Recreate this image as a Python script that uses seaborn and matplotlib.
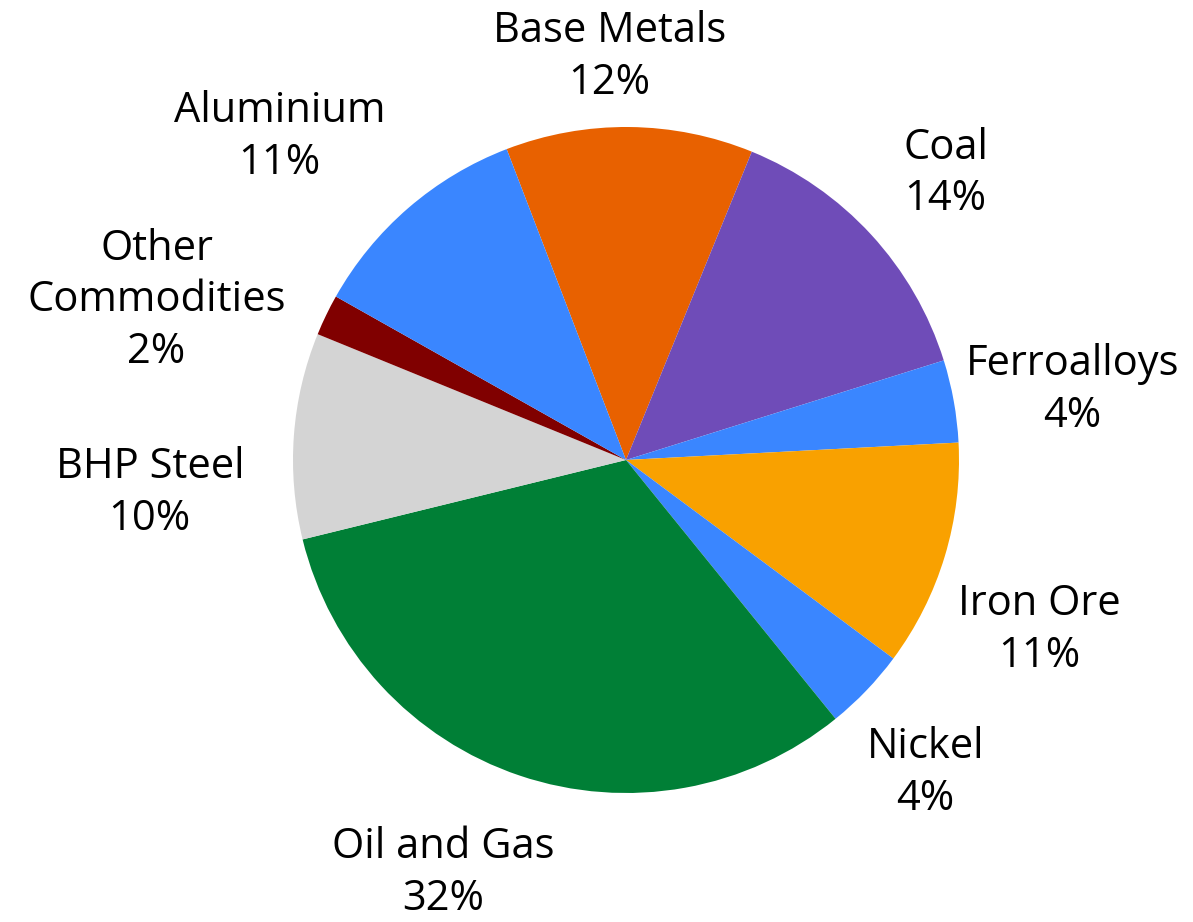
import matplotlib
matplotlib.use("Agg")
import matplotlib.pyplot as plt
import seaborn as sns

sns.set_theme(style="white")
plt.rcParams["font.family"] = ["Open Sans", "DejaVu Sans"]

# Commodity segments, clockwise from the top-left
segments = ["Base Metals", "Coal", "Ferroalloys", "Iron Ore", "Nickel",
            "Oil and Gas", "BHP Steel", "Other\nCommodities", "Aluminium"]
shares = [12, 14, 4, 11, 4, 32, 10, 2, 11]
colors = ["#E86100", "#6F4CB8", "#3A86FF", "#F9A100", "#3A86FF",
          "#007F36", "#D4D4D4", "#800000", "#3A86FF"]

# Label centres in units of the pie radius (x right, y up from centre)
label_pos = [(-0.05, 1.21), (0.96, 0.86), (1.34, 0.21), (1.24, -0.51),
             (0.90, -0.94), (-0.55, -1.24), (-1.43, -0.10), (-1.41, 0.48),
             (-1.04, 0.97)]

fig = plt.figure(figsize=(11.93, 9.22), dpi=100)
ax = fig.add_axes([0, 0, 1, 1])
ax.pie(shares, colors=colors, startangle=111, counterclock=False,
       radius=1.0, wedgeprops=dict(linewidth=0))

for name, val, (x, y) in zip(segments, shares, label_pos):
    ax.text(x, y, f"{name}\n{val}%", ha="center", va="center",
            fontsize=30, linespacing=1.3, color="black")

# 1 data unit = 333 px, pie centre at (626, 460) px
r = 333.0
ax.set_xlim(-626 / r, (1193 - 626) / r)
ax.set_ylim(-(922 - 460) / r, 460 / r)
ax.set_aspect("auto")
ax.axis("off")

fig.savefig("out.png", dpi=100)
